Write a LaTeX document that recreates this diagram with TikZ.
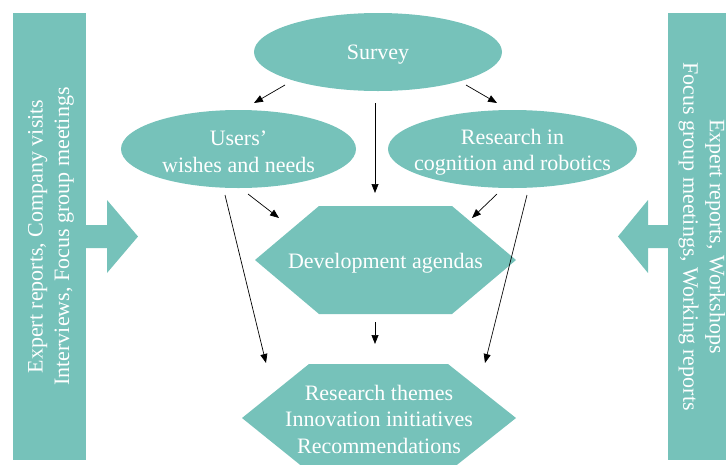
\documentclass[tikz,border=0pt]{standalone}
\usepackage{fontspec}
\setmainfont{Liberation Serif}
\usetikzlibrary{arrows.meta}
\definecolor{teal1}{RGB}{118,194,186}
\tikzset{
  lbl/.style={text=white, align=center, inner sep=0pt},
  conn/.style={-{Triangle[length=9pt,width=7pt]}, line width=0.7pt, black},
  txt/.style={font=\fontsize{22}{26.5}\selectfont}
}
\begin{document}
\begin{tikzpicture}[x=1pt,y=-1pt]
\useasboundingbox (0,0) rectangle (726,464);
% side bars
\fill[teal1] (13,13) rectangle (86,460);
\fill[teal1] (668,13) rectangle (741,460);
% side arrows
\fill[teal1] (86,225) -- (107,225) -- (107,200) -- (138,236.5) -- (107,273) -- (107,248) -- (86,248) -- cycle;
\fill[teal1] (668,225) -- (648,225) -- (648,200) -- (618,236.5) -- (648,273) -- (648,248) -- (668,248) -- cycle;
\node[lbl, txt, rotate=90] (lefttext) at (51,236.5) {Expert reports, Company visits\\Interviews, Focus group meetings};
\node[lbl, txt, rotate=-90] (righttext) at (702,236.5) {Expert reports, Workshops\\Focus group meetings, Working reports};
% ellipses
\fill[teal1] (378,52) ellipse [x radius=124, y radius=39];
\fill[teal1] (238.5,149) ellipse [x radius=117.5, y radius=39];
\fill[teal1] (512.5,149) ellipse [x radius=124.5, y radius=39];
\node[lbl, txt] (survey) at (378,55) {Survey};
\node[lbl, txt] (users) at (238.5,152) {Users'\\wishes and needs};
\node[lbl, txt] (research) at (512.5,152) {Research in\\cognition and robotics};
% hexagons
\fill[teal1] (255,260) -- (319,206) -- (452,206) -- (516,260) -- (452,314) -- (319,314) -- cycle;
\node[lbl, txt] (dev) at (385.5,263) {Development agendas};
\fill[teal1] (242,418) -- (309,364) -- (448,364) -- (516,418) -- (448,472) -- (309,472) -- cycle;
\node[lbl, txt] (out) at (379,419) {Research themes\\Innovation initiatives\\Recommendations};
% connector end points
\coordinate (s1) at (285,85);  \coordinate (u1) at (254,103);
\coordinate (s2) at (466,85);  \coordinate (r1) at (497,103);
\coordinate (s3) at (375,103); \coordinate (d1) at (375,193);
\coordinate (u2) at (248,194); \coordinate (d2) at (279,218);
\coordinate (r2) at (497,194); \coordinate (d3) at (472,218);
\coordinate (d4) at (375,322); \coordinate (o1) at (375,344);
\coordinate (u3) at (225,195); \coordinate (o2) at (266,363);
\coordinate (r3) at (527,195); \coordinate (o3) at (485,363);
\draw[conn] (s1) -- (u1);
\draw[conn] (s2) -- (r1);
\draw[conn] (s3) -- (d1);
\draw[conn] (u2) -- (d2);
\draw[conn] (r2) -- (d3);
\draw[conn] (d4) -- (o1);
\draw[conn] (u3) -- (o2);
\draw[conn] (r3) -- (o3);
\end{tikzpicture}
\end{document}
